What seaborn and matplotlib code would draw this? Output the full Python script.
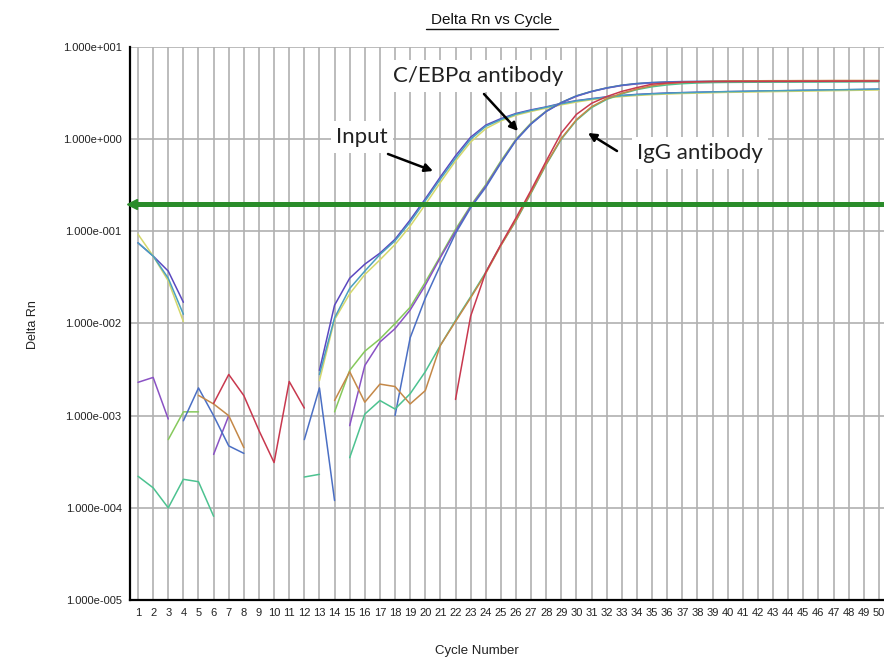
import numpy as np
import pandas as pd
import matplotlib
matplotlib.use("Agg")
import matplotlib.pyplot as plt
import seaborn as sns
from matplotlib.ticker import FixedLocator, FuncFormatter, NullLocator
from matplotlib.lines import Line2D

nan = np.nan
cycles = list(range(1, 51))

input_a = [0.075, 0.054, 0.037, 0.017] + [nan] * 8 + [
    0.0031, 0.0158, 0.031, 0.044, 0.058, 0.082, 0.133, 0.225, 0.39, 0.66,
    1.05, 1.42, 1.67, 1.9, 2.08, 2.24, 2.45, 2.62, 2.75, 2.88,
    2.98, 3.06, 3.12, 3.17, 3.2, 3.23, 3.26, 3.28, 3.3, 3.32,
    3.34, 3.36, 3.38, 3.4, 3.42, 3.44, 3.46, 3.48]
input_b = [0.093, 0.054, 0.029, 0.0105] + [nan] * 8 + [
    0.0024, 0.011, 0.021, 0.034, 0.049, 0.072, 0.114, 0.195, 0.34, 0.58,
    0.93, 1.3, 1.58, 1.82, 2.0, 2.17, 2.36, 2.53, 2.68, 2.8,
    2.9, 2.98, 3.04, 3.09, 3.13, 3.16, 3.19, 3.22, 3.24, 3.26,
    3.28, 3.3, 3.32, 3.34, 3.36, 3.38, 3.4, 3.42]
input_c = [0.075, 0.054, 0.031, 0.0126] + [nan] * 8 + [
    0.0028, 0.0115, 0.024, 0.037, 0.056, 0.079, 0.126, 0.215, 0.37, 0.62,
    1.0, 1.38, 1.63, 1.87, 2.05, 2.22, 2.42, 2.6, 2.73, 2.86,
    2.96, 3.04, 3.1, 3.15, 3.19, 3.22, 3.25, 3.28, 3.3, 3.33,
    3.35, 3.37, 3.39, 3.41, 3.43, 3.45, 3.47, 3.5]
cebp_green = [nan, nan, 0.00055, 0.0011, 0.0011] + [nan] * 8 + [
    0.0011, 0.0031, 0.005, 0.0068, 0.01, 0.015, 0.028, 0.054, 0.105,
    0.19, 0.32, 0.58, 1.0, 1.5, 2.02, 2.5, 2.95, 3.3, 3.6,
    3.85, 4.0, 4.1, 4.15, 4.18, 4.2, 4.21, 4.22, 4.22, 4.23,
    4.23, 4.24, 4.24, 4.25, 4.25, 4.26, 4.26, 4.27]
cebp_purple = [0.0023, 0.0026, 0.00092, nan, nan, 0.00038, 0.001] + [nan] * 7 + [
    0.00078, 0.0035, 0.0063, 0.0088, 0.014, 0.026, 0.052, 0.1,
    0.185, 0.31, 0.56, 0.98, 1.47, 2.0, 2.48, 2.92, 3.28, 3.58,
    3.82, 3.98, 4.08, 4.13, 4.16, 4.18, 4.19, 4.2, 4.2, 4.21,
    4.21, 4.22, 4.22, 4.23, 4.23, 4.24, 4.24, 4.24]
cebp_blue = [nan, nan, nan, 0.00088, 0.002, 0.001, 0.00047, 0.00039, nan, nan, nan,
    0.00055, 0.002, 0.00012, nan, nan, nan,
    0.001, 0.007, 0.0188, 0.043, 0.095,
    0.18, 0.3, 0.55, 0.97, 1.46, 2.0, 2.5, 2.95, 3.3, 3.6,
    3.85, 4.02, 4.12, 4.18, 4.22, 4.24, 4.25, 4.26, 4.26, 4.27,
    4.27, 4.28, 4.28, 4.29, 4.29, 4.3, 4.3, 4.3]
igg_red = [nan] * 5 + [0.00136, 0.0028, 0.00165, 0.00069, 0.00031, 0.00235, 0.00121] + [nan] * 9 + [
    0.0015,
    0.012, 0.036, 0.072, 0.14, 0.28, 0.58, 1.17, 1.86, 2.45, 2.9,
    3.3, 3.63, 3.95, 4.07, 4.15, 4.19, 4.21, 4.22, 4.23, 4.23,
    4.24, 4.24, 4.25, 4.25, 4.26, 4.26, 4.27, 4.27]
igg_green = [0.00022, 0.000165, 0.0001, 0.000204, 0.000192, 0.000081] + [nan] * 5 + [
    0.000216, 0.000231, nan,
    0.00035, 0.00104, 0.00146, 0.00118, 0.00173, 0.003, 0.0058, 0.0108,
    0.0195, 0.036, 0.071, 0.13, 0.26, 0.53, 1.0, 1.6, 2.2, 2.7,
    3.1, 3.45, 3.7, 3.88, 4.0, 4.07, 4.11, 4.13, 4.14, 4.15,
    4.16, 4.16, 4.17, 4.17, 4.18, 4.18, 4.19, 4.2]
igg_brown = [nan] * 4 + [0.00166, 0.00134, 0.001, 0.00045] + [nan] * 5 + [
    0.00146, 0.003, 0.0014, 0.0022, 0.00207, 0.00134, 0.00187, 0.0058, 0.0105,
    0.019, 0.035, 0.07, 0.132, 0.265, 0.54, 1.02, 1.63, 2.25, 2.75,
    3.15, 3.5, 3.8, 4.0, 4.12, 4.2, 4.25, 4.28, 4.29, 4.3,
    4.31, 4.31, 4.32, 4.32, 4.33, 4.33, 4.33, 4.33]

series = {
    "input_a": input_a, "input_b": input_b, "input_c": input_c,
    "cebp_green": cebp_green, "cebp_purple": cebp_purple, "cebp_blue": cebp_blue,
    "igg_green": igg_green, "igg_brown": igg_brown, "igg_red": igg_red,
}
palette = {
    "input_a": "#5a48c0", "input_b": "#d4d86c", "input_c": "#4a9fc0",
    "cebp_green": "#86c95c", "cebp_purple": "#8a52c4", "cebp_blue": "#4b6fc4",
    "igg_green": "#4cc290", "igg_brown": "#c48848", "igg_red": "#c8384e",
}
threshold = 0.2
y_ticks = [1e-5, 1e-4, 1e-3, 1e-2, 1e-1, 1e0, 1e1]

# long table, contiguous segments split at gaps
rows = []
for name, vals in series.items():
    seg = 0
    prev_nan = True
    for c, v in zip(cycles, vals):
        if v is None or (isinstance(v, float) and np.isnan(v)):
            prev_nan = True
            continue
        if prev_nan:
            seg += 1
            prev_nan = False
        rows.append({"cycle": c, "rn": v, "series": name, "seg": f"{name}_{seg}"})
df = pd.DataFrame(rows)

sns.set_theme(style="white")
plt.rcParams["font.family"] = ["Liberation Sans", "DejaVu Sans"]

W, H = 884, 659
fig = plt.figure(figsize=(W / 100, H / 100), dpi=100)
ax = fig.add_axes([130 / W, 1 - 600 / H, (884 - 130) / W, (600 - 47) / H])

ax.set_yscale("log")
ax.set_ylim(1e-5, 1e1)
ax.set_xlim(0.47, 50.34)

ax.set_xticks(cycles)
ax.yaxis.set_major_locator(FixedLocator(y_ticks))
ax.yaxis.set_minor_locator(NullLocator())


def fmt(v, pos):
    e = int(np.round(np.log10(v)))
    m = v / 10 ** e
    return f"{m:.3f}e{e:+04d}"


ax.yaxis.set_major_formatter(FuncFormatter(fmt))
ax.grid(True, which="major", color="#b0b0b0", linewidth=1.2, zorder=0)
ax.set_axisbelow(True)

sns.lineplot(data=df, x="cycle", y="rn", hue="series", units="seg",
             estimator=None, palette=palette, legend=False, linewidth=1.1, ax=ax)

ax.axhline(threshold, color="#2a8c2a", linewidth=3.6, zorder=5)
ax.plot([0.62], [threshold], marker="<", color="#2a8c2a", markersize=7,
        clip_on=False, zorder=6)

for s in ["top", "right"]:
    ax.spines[s].set_visible(False)
ax.spines["left"].set_color("black")
ax.spines["left"].set_linewidth(1.6)
ax.spines["bottom"].set_color("black")
ax.spines["bottom"].set_linewidth(1.6)
ax.tick_params(axis="both", length=0, labelsize=8, colors="#222222")
ax.tick_params(axis="y", pad=6)
ax.tick_params(axis="x", pad=6)
ax.set_xlabel("")
ax.set_ylabel("")

fig.text(477 / W, 1 - 651 / H, "Cycle Number", ha="center", va="center",
         fontsize=9.5, color="#222222")
fig.text(33 / W, 1 - 325 / H, "Delta Rn", ha="center", va="center",
         rotation=90, fontsize=9, color="#222222")
fig.text(492 / W, 1 - 20 / H, "Delta Rn vs Cycle", ha="center", va="center",
         fontsize=11, color="#111111")
fig.add_artist(Line2D([426 / W, 558 / W], [1 - 29 / H, 1 - 29 / H],
                      color="#111111", linewidth=1.0))


def fp(x, y):
    return (x / W, 1 - y / H)


afont = dict(family=["Lato", "DejaVu Sans"], fontsize=16, color="#222222")
box = dict(facecolor="white", edgecolor="none", pad=4)
ann_arrow = dict(arrowstyle="-|>", color="black", lw=1.8, mutation_scale=12,
                 shrinkA=0, shrinkB=0)

ax.annotate("Input", xy=fp(362, 137), xycoords="figure fraction",
            ha="center", va="center", bbox=box, zorder=10, **afont)
ax.annotate("", xy=fp(433, 171), xytext=fp(388, 154), xycoords="figure fraction",
            textcoords="figure fraction", arrowprops=ann_arrow, zorder=10)

ax.annotate("C/EBP\u03b1 antibody", xy=fp(478, 76), xycoords="figure fraction",
            ha="center", va="center", bbox=box, zorder=10, **afont)
ax.annotate("", xy=fp(518, 131), xytext=fp(484, 94), xycoords="figure fraction",
            textcoords="figure fraction", arrowprops=ann_arrow, zorder=10)

ax.annotate("IgG antibody", xy=fp(700, 153), xycoords="figure fraction",
            ha="center", va="center", bbox=box, zorder=10, **afont)
ax.annotate("", xy=fp(588, 133), xytext=fp(617, 151), xycoords="figure fraction",
            textcoords="figure fraction", arrowprops=ann_arrow, zorder=10)

fig.savefig("out.png", dpi=100)
